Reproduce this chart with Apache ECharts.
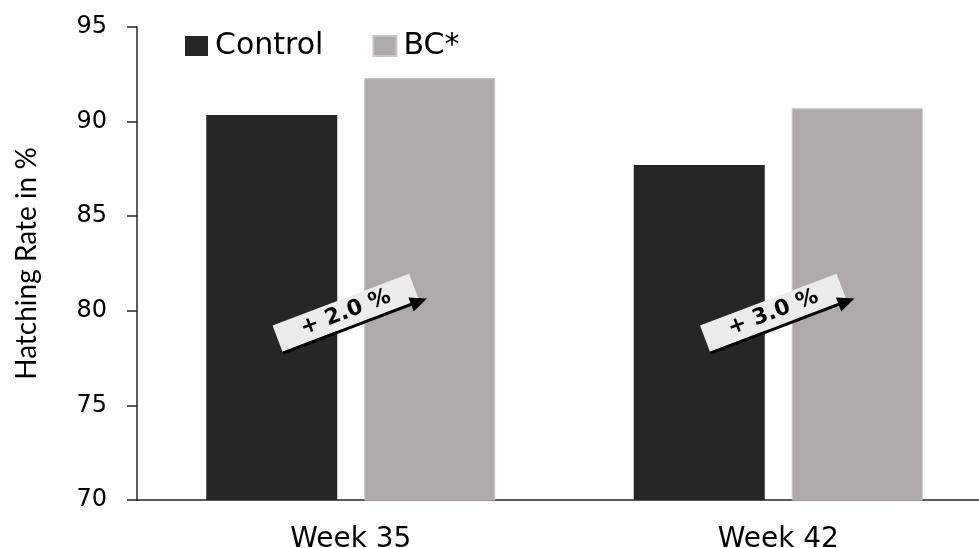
<!DOCTYPE html>
<html>
<head>
<meta charset="utf-8">
<script src="https://cdn.jsdelivr.net/npm/echarts@6/dist/echarts.min.js"></script>
<style>
html,body{margin:0;padding:0;background:#fff;}
#chart{width:979px;height:548px;}
</style>
</head>
<body>
<div id="chart"></div>
<script>
var categories = ['Week 35', 'Week 42'];
var controlValues = [90.35, 87.7];
var bcValues = [92.3, 90.7];
var seriesNames = ['Control', 'BC*'];
var yTicks = { min: 70, max: 95, interval: 5 };
var annotationLabels = ['+ 2.0 %', '+ 3.0 %'];
var annotationLevel = 79.9;

var chart = echarts.init(document.getElementById('chart'));
var FONT = 'DejaVu Sans';

chart.setOption({
  animation: false,
  legend: {
    left: 180, top: 26,
    itemWidth: 23, itemHeight: 20, itemGap: 49,
    icon: 'rect',
    textStyle: { fontFamily: FONT, fontSize: 30, color: '#000', padding: [0,0,0,2] },
    data: seriesNames
  },
  grid: { left: 137, top: 27, width: 855, height: 473, containLabel: false, outerBoundsMode: 'none' },
  xAxis: {
    type: 'category',
    data: categories,
    axisLine: { lineStyle: { color: '#262626', width: 1.5 } },
    axisTick: { show: false },
    axisLabel: { fontFamily: FONT, fontSize: 28, color: '#000', margin: 26 }
  },
  yAxis: {
    type: 'value',
    min: yTicks.min, max: yTicks.max, interval: yTicks.interval,
    name: 'Hatching Rate in %',
    nameLocation: 'middle',
    nameGap: 96,
    nameRotate: 90,
    nameTextStyle: { fontFamily: 'Lato', fontSize: 28, color: '#000' },
    axisLine: { show: true, lineStyle: { color: '#262626', width: 1.5 } },
    axisTick: { show: true, length: 10, lineStyle: { color: '#262626', width: 1.5 } },
    splitLine: { show: false },
    axisLabel: { fontFamily: FONT, fontSize: 24, color: '#000', margin: 30 }
  },
  series: [
    {
      name: seriesNames[0], type: 'bar', data: controlValues,
      barWidth: 131, barGap: '20.6%',
      itemStyle: { color: '#262626' }
    },
    {
      name: seriesNames[1], type: 'bar', data: bcValues,
      barWidth: 131,
      itemStyle: { color: '#aeaaaa', borderColor: '#c8c5c5', borderWidth: 1 }
    }
  ]
});

function drawAnnotations() {
  var elems = [];
  var rot = 20.8 * Math.PI / 180;
  var W = 146, H = 28;
  categories.forEach(function (c, i) {
    var p = chart.convertToPixel({ xAxisIndex: 0, yAxisIndex: 0 }, [c, annotationLevel]);
    elems.push({
      type: 'group',
      x: p[0] - 5, y: p[1],
      rotation: rot,
      z: 100,
      children: [
        { type: 'rect', z: 100, shape: { x: -W/2, y: -H/2, width: W, height: H },
          style: { fill: '#ececec' } },
        { type: 'line', z: 100, shape: { x1: -W/2, y1: H/2 + 1.5, x2: W/2 - 2, y2: H/2 + 1.5 },
          style: { stroke: '#000', lineWidth: 3 } },
        { type: 'polygon', z: 100, shape: { points: [[W/2 - 9, H/2 - 6], [W/2 + 8, H/2 + 1.5], [W/2 - 9, H/2 + 9]] },
          style: { fill: '#000' } },
        { type: 'text', z: 101, x: 0, y: 0,
          style: { text: annotationLabels[i], fontFamily: FONT, fontWeight: 'bold', fontSize: 22,
                   fill: '#000', align: 'center', verticalAlign: 'middle' } }
      ]
    });
  });
  chart.setOption({ graphic: elems });
}
drawAnnotations();
</script>
</body>
</html>
